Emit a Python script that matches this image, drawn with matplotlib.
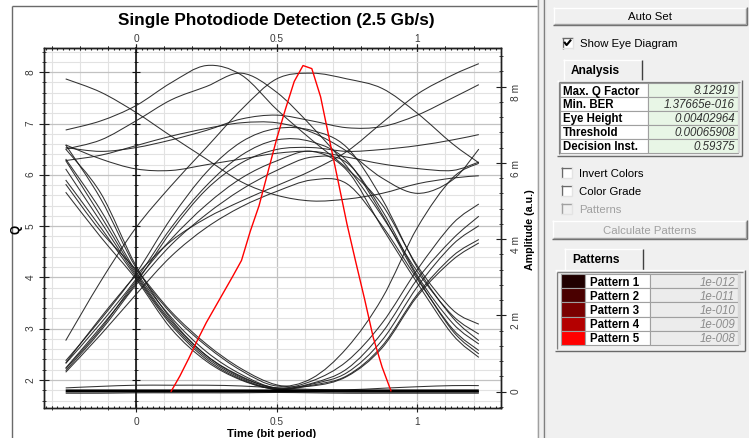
import numpy as np
import matplotlib
matplotlib.use("Agg")
import matplotlib.pyplot as plt
from matplotlib.patches import Rectangle, PathPatch
from matplotlib.path import Path
from matplotlib.ticker import MultipleLocator, FixedLocator, FuncFormatter, NullFormatter

plt.rcParams['font.family'] = ['Liberation Sans', 'DejaVu Sans']

# ---------------- data ----------------
time_bits = [-0.25, -0.125, 0.0, 0.125, 0.25, 0.375, 0.5, 0.625, 0.75, 0.875, 1.0, 1.125, 1.21875]

# eye-diagram traces, amplitude in mV (right axis)
trace_a = [8.20, 7.85, 7.32, 6.70, 6.10, 5.50, 5.15, 5.00, 5.05, 5.20, 5.45, 5.60, 5.66]
trace_b = [6.86, 7.10, 7.50, 8.10, 8.55, 8.30, 7.40, 6.60, 5.85, 4.90, 3.30, 2.15, 1.77]
trace_c = [6.36, 6.60, 7.10, 7.65, 8.00, 8.35, 7.85, 6.95, 5.90, 4.60, 3.15, 2.00, 1.51]
trace_d = [6.40, 6.30, 6.40, 6.60, 6.85, 7.15, 7.25, 7.10, 6.92, 6.95, 7.25, 7.70, 8.05]
trace_g = [6.47, 6.10, 5.84, 5.80, 5.95, 6.10, 6.25, 6.30, 6.15, 5.97, 5.85, 5.80, 6.02]
trace_i = [6.06, 6.20, 6.45, 6.70, 6.90, 7.05, 7.05, 6.80, 6.30, 5.60, 5.20, 5.55, 6.36]
trace_l1 = [1.34, 2.90, 4.30, 5.40, 6.40, 7.40, 8.20, 8.35, 8.20, 7.95, 7.30, 6.50, 6.00]
trace_e = [0.75, 1.95, 3.05, 3.95, 4.55, 5.00, 5.40, 5.80, 6.30, 7.05, 7.80, 8.30, 8.60]
trace_h = [0.62, 1.70, 2.85, 4.20, 5.30, 6.00, 6.35, 6.40, 6.30, 6.35, 6.45, 6.60, 6.74]
trace_r0b = [0.81, 1.90, 3.10, 4.55, 5.75, 6.55, 6.90, 6.85, 6.40, 5.05, 3.25, 1.95, 1.34]
trace_r0c = [0.55, 1.60, 2.80, 3.85, 4.65, 5.30, 5.80, 6.15, 6.00, 4.75, 3.05, 1.80, 1.25]
trace_r0d = [0.51, 1.50, 2.55, 3.55, 4.30, 4.85, 5.25, 5.55, 5.45, 4.35, 2.95, 1.65, 1.08]
trace_r0e = [0.74, 1.80, 2.95, 4.30, 5.40, 6.20, 6.60, 6.55, 6.05, 4.65, 3.00, 1.60, 0.99]
trace_r0f = [0.60, 1.65, 2.90, 4.00, 4.90, 5.60, 6.05, 6.30, 5.80, 4.30, 2.85, 1.50, 0.90]
trace_v1 = [6.47, 5.05, 3.25, 2.05, 1.20, 0.55, 0.15, 0.35, 1.15, 2.45, 4.30, 5.60, 5.99]
trace_v2 = [6.10, 4.75, 3.15, 1.95, 1.05, 0.45, 0.10, 0.28, 0.80, 1.80, 3.20, 4.40, 4.92]
trace_v3 = [6.06, 4.60, 3.10, 1.85, 0.95, 0.40, 0.08, 0.22, 0.60, 1.55, 2.95, 4.00, 4.60]
trace_v4 = [5.84, 4.45, 3.05, 1.80, 0.90, 0.35, 0.07, 0.20, 0.50, 1.35, 2.75, 3.85, 4.35]
trace_v5 = [5.55, 4.30, 3.00, 1.75, 0.85, 0.32, 0.06, 0.17, 0.42, 1.20, 2.55, 3.55, 3.99]
trace_v6 = [5.44, 4.20, 3.20, 2.10, 1.25, 0.60, 0.18, 0.15, 0.40, 1.15, 2.50, 3.45, 3.90]
trace_v7 = [5.23, 4.05, 2.95, 1.65, 0.80, 0.30, 0.05, 0.02, 0.00, 0.00, 0.00, 0.00, 0.00]
trace_v8 = [6.36, 5.20, 3.30, 1.90, 0.95, 0.38, 0.09, 0.03, 0.01, 0.00, 0.00, 0.00, 0.00]
trace_z1 = [0.02, 0.02, 0.02, 0.02, 0.02, 0.02, 0.02, 0.02, 0.02, 0.02, 0.02, 0.02, 0.02]
trace_z2 = [-0.04, -0.04, -0.03, -0.03, -0.03, -0.03, -0.02, -0.03, -0.04, -0.04, -0.04, -0.04, -0.04]
trace_z3 = [0.10, 0.14, 0.17, 0.17, 0.17, 0.15, 0.10, 0.06, 0.05, 0.09, 0.13, 0.16, 0.16]

eye_traces = [trace_a, trace_b, trace_c, trace_d, trace_g, trace_i, trace_l1, trace_e, trace_h,
              trace_r0b, trace_r0c, trace_r0d, trace_r0e, trace_r0f,
              trace_v1, trace_v2, trace_v3, trace_v4, trace_v5, trace_v6, trace_v7, trace_v8,
              trace_z2, trace_z3]
zero_trace = trace_z1

# Q factor vs decision instant (left axis)
q_time = [0.125, 0.15625, 0.1875, 0.21875, 0.25, 0.28125, 0.3125, 0.34375, 0.375, 0.40625,
          0.4375, 0.46875, 0.5, 0.53125, 0.5625, 0.59375, 0.625, 0.65625, 0.6875, 0.71875,
          0.75, 0.78125, 0.8125, 0.84375, 0.875, 0.90625]
q_factor = [1.78, 2.08, 2.42, 2.78, 3.12, 3.42, 3.72, 4.02, 4.33, 4.90,
            5.40, 6.05, 6.70, 7.28, 7.82, 8.13, 8.07, 7.52, 6.69, 5.87,
            5.04, 4.30, 3.58, 2.82, 2.25, 1.79]

analysis_labels = ["Max. Q Factor", "Min. BER", "Eye Height", "Threshold", "Decision Inst."]
analysis_values = ["8.12919", "1.37665e-016", "0.00402964", "0.00065908", "0.59375"]
pattern_labels = ["Pattern 1", "Pattern 2", "Pattern 3", "Pattern 4", "Pattern 5"]
pattern_ber = ["1e-012", "1e-011", "1e-010", "1e-009", "1e-008"]
pattern_colors = ["#200000", "#4a0000", "#7a0000", "#b40000", "#ff0000"]

x_tick_values = [0.0, 0.5, 1.0]
title = "Single Photodiode Detection (2.5 Gb/s)"

# ---------------- figure ----------------
W, H = 749, 439
fig = plt.figure(figsize=(W / 100, H / 100), dpi=100)
fig.patch.set_facecolor('white')

ui = fig.add_axes([0, 0, 1, 1])
ui.set_xlim(0, W)
ui.set_ylim(H, 0)
ui.axis('off')


def rect(x0, y0, x1, y1, fc, ec='none', lw=0.8, z=1):
    ui.add_patch(Rectangle((x0, y0), x1 - x0, y1 - y0, facecolor=fc, edgecolor=ec, lw=lw, zorder=z))


def line(xs, ys, c, lw=1.0, z=2):
    ui.plot(xs, ys, color=c, lw=lw, zorder=z, solid_capstyle='butt')


# chart outer frame
line([11.5, 11.5], [H, 6.5], '#6a6a6a', 1.0)
line([11.5, 537], [6.5, 6.5], '#6a6a6a', 1.0)

# right panel
rect(537, 0, W, H, '#f0f0f0')
line([537.5, 537.5], [0, H], '#a0a0a0', 1.0)
line([543.5, 543.5], [0, H], '#696969', 1.0)
line([544.5, 544.5], [0, H], '#dcdcdc', 1.0)


def button(x0, y0, x1, y1, label, enabled=True):
    rect(x0, y0, x1, y1, '#f0f0f0')
    line([x0, x1], [y0 + 0.5, y0 + 0.5], '#ffffff', 1.0)
    line([x0 + 0.5, x0 + 0.5], [y0, y1], '#ffffff', 1.0)
    line([x0, x1], [y1 - 0.5, y1 - 0.5], '#696969', 1.0)
    line([x1 - 0.5, x1 - 0.5], [y0, y1], '#696969', 1.0)
    line([x0 + 1, x1 - 1], [y1 - 1.5, y1 - 1.5], '#a0a0a0', 1.0)
    line([x1 - 1.5, x1 - 1.5], [y0 + 1, y1 - 1], '#a0a0a0', 1.0)
    ui.text((x0 + x1) / 2, (y0 + y1) / 2 + 0.5, label, ha='center', va='center', fontsize=8.2,
            color='#000000' if enabled else '#a0a0a0', zorder=3)


def checkbox(x, y, label, checked=False, enabled=True):
    fc = '#ffffff' if enabled else '#f0f0f0'
    rect(x, y, x + 11, y + 11, fc, z=2)
    dark = '#696969' if enabled else '#a0a0a0'
    line([x, x + 11], [y + 0.5, y + 0.5], dark, 1.0, z=3)
    line([x + 0.5, x + 0.5], [y, y + 11], dark, 1.0, z=3)
    line([x, x + 11], [y + 10.5, y + 10.5], '#e3e3e3', 1.0, z=3)
    line([x + 10.5, x + 10.5], [y, y + 11], '#e3e3e3', 1.0, z=3)
    if checked:
        ui.plot([x + 2.8, x + 4.6, x + 8.4], [y + 5.2, y + 7.6, y + 3.0], color='#000000', lw=1.5, zorder=4)
    ui.text(x + 18, y + 5.8, label, ha='left', va='center', fontsize=8.2,
            color='#000000' if enabled else '#a0a0a0', zorder=3)


def tab(x0, y0, x1, y1, label):
    rect(x0, y0, x1, y1, '#f0f0f0', z=2)
    line([x0 + 0.5, x0 + 0.5], [y0, y1], '#ffffff', 1.0, z=3)
    line([x0, x1], [y0 + 0.5, y0 + 0.5], '#ffffff', 1.0, z=3)
    line([x1 - 0.5, x1 - 0.5], [y0 + 1, y1], '#404040', 1.0, z=3)
    ui.text(x0 + 8, (y0 + y1) / 2 + 0.5, label, ha='left', va='center', fontsize=8.6,
            fontweight='bold', color='#000000', zorder=4)


def frame3d(x0, y0, x1, y1):
    line([x0, x1], [y0 + 0.5, y0 + 0.5], '#ffffff', 1.0, z=3)
    line([x0 + 0.5, x0 + 0.5], [y0, y1], '#ffffff', 1.0, z=3)
    line([x0, x1], [y1 - 0.5, y1 - 0.5], '#696969', 1.0, z=3)
    line([x1 - 0.5, x1 - 0.5], [y0, y1], '#696969', 1.0, z=3)
    line([x0 + 2, x1 - 2], [y0 + 2, y0 + 2], '#808080', 1.0, z=3)
    line([x0 + 2, x0 + 2], [y0 + 2, y1 - 2], '#808080', 1.0, z=3)


button(553, 8, 747, 26, "Auto Set")
checkbox(562, 38.5, "Show Eye Diagram", checked=True)
tab(563, 60, 642, 81, "Analysis")

# analysis table
frame3d(557, 81, 742, 157)
row_h = 14.0
top = 84.0
for k, (lab, val) in enumerate(zip(analysis_labels, analysis_values)):
    y0 = top + k * row_h
    rect(560, y0, 648, y0 + row_h, '#ffffff', '#a0a0a0', 0.8, z=2)
    rect(648, y0, 737.5, y0 + row_h, '#e8f6e6', '#a0a0a0', 0.8, z=2)
    ui.text(563, y0 + row_h / 2 + 0.5, lab, ha='left', va='center', fontsize=8.3,
            fontweight='bold', color='#000000', zorder=4)
    ui.text(735, y0 + row_h / 2 + 0.5, val, ha='right', va='center', fontsize=8.3,
            style='italic', color='#303030', zorder=4)
rect(737.5, top, 740, top + 5 * row_h, '#d8d8d8', z=2)

checkbox(561, 168, "Invert Colors")
checkbox(561, 186, "Color Grade")
checkbox(561, 204, "Patterns", enabled=False)
button(552, 221, 747, 240, "Calculate Patterns", enabled=False)
tab(564, 249, 643, 271, "Patterns")

# patterns table
frame3d(555, 270.5, 745, 352)
prow_h = 14.2
ptop = 275.0
for k, (lab, val, col) in enumerate(zip(pattern_labels, pattern_ber, pattern_colors)):
    y0 = ptop + k * prow_h
    rect(561, y0, 584.5, y0 + prow_h, col, '#a0a0a0', 0.8, z=2)
    rect(584.5, y0, 649.5, y0 + prow_h, '#ffffff', '#a0a0a0', 0.8, z=2)
    rect(649.5, y0, 737.5, y0 + prow_h, '#ececec', '#a0a0a0', 0.8, z=2)
    ui.text(590, y0 + prow_h / 2 + 0.5, lab, ha='left', va='center', fontsize=8.3,
            fontweight='bold', color='#000000', zorder=4)
    ui.text(735, y0 + prow_h / 2 + 0.5, val, ha='right', va='center', fontsize=8.3,
            style='italic', color='#8c8c8c', zorder=4)
rect(737.5, ptop, 740.5, ptop + 5 * prow_h, '#d8d8d8', z=2)

# ---------------- chart axes ----------------
L, R, T, B = 44.0, 500.7, 49.0, 409.3
XLIM = (-0.3271, 1.2965)
QLIM = (1.448, 8.472)
rect_ax = [L / W, 1 - B / H, (R - L) / W, (B - T) / H]
ax = fig.add_axes(rect_ax)
ax.set_xlim(*XLIM)
ax.set_ylim(*QLIM)
ax.set_facecolor('white')

xfmt = FuncFormatter(lambda v, p: '%g' % (0 if abs(v) < 1e-9 else round(v, 2)))
minor_x = FixedLocator([round(0.1 * k, 1) for k in range(-3, 13)])
ax.xaxis.set_major_locator(FixedLocator(x_tick_values))
ax.xaxis.set_minor_locator(minor_x)
ax.xaxis.set_major_formatter(xfmt)
ax.yaxis.set_major_locator(MultipleLocator(1))
ax.yaxis.set_minor_locator(MultipleLocator(0.2))
ax.yaxis.set_major_formatter(FuncFormatter(lambda v, p: '%d' % round(v)))

ax.grid(which='minor', color='#e2e2e2', lw=0.8)
ax.grid(which='major', color='#c2c2c2', lw=0.9)
ax.set_axisbelow(True)

ax.tick_params(axis='x', which='both', top=True, labeltop=False, bottom=True, labelbottom=True,
               direction='inout', colors='#202020', labelcolor='#3a3a3a', labelsize=7.3, pad=2.6)
ax.tick_params(axis='x', which='major', length=6)
ax.tick_params(axis='x', which='minor', length=3.5)
ax.tick_params(axis='y', which='both', left=True, right=False, direction='inout', colors='#202020',
               labelcolor='#3a3a3a', labelsize=7.3, labelrotation=90, pad=2.6)
ax.tick_params(axis='y', which='major', length=7)
ax.tick_params(axis='y', which='minor', length=3.5)
for s in ax.spines.values():
    s.set_color('#202020')
    s.set_linewidth(1.0)

# top tick labels
secx = ax.secondary_xaxis('top')
secx.xaxis.set_major_locator(FixedLocator(x_tick_values))
secx.xaxis.set_minor_locator(FixedLocator([round(0.1 * k, 1) for k in range(-3, 13)]))
secx.xaxis.set_major_formatter(xfmt)
secx.tick_params(axis='x', which='both', direction='inout', colors='#202020', labelcolor='#3a3a3a',
                 labelsize=7.3, pad=0.6)
secx.tick_params(axis='x', which='major', length=6)
secx.tick_params(axis='x', which='minor', length=3.5)
secx.spines['top'].set_color('#202020')

ax.set_xlabel('Time (bit period)', fontsize=8.2, fontweight='bold', color='#000000')
ax.xaxis.set_label_coords(0.5 + (272.0 - (L + R) / 2) / (R - L), -(433.8 - B) / (B - T))
ax.xaxis.label.set_va('center')
ax.set_ylabel('Q', fontsize=8.5, fontweight='bold', color='#000000')
ax.yaxis.set_label_coords(-(L - 16.5) / (R - L), 0.5)
ax.yaxis.label.set_va('center')
ax.set_title(title, fontsize=12.3, fontweight='bold', color='#000000',
             x=(276.0 - L) / (R - L), y=1 + (T - 20.7) / (B - T), va='center', pad=0)

# helper axis (independent): vertical axis line through t = 0 and fine ticks on the frame
axz = fig.add_axes(rect_ax)
axz.set_xlim(*XLIM)
axz.set_ylim(*QLIM)
axz.patch.set_visible(False)
for nm in ('top', 'bottom', 'right'):
    axz.spines[nm].set_visible(False)
axz.spines['left'].set_position(('data', 0))
axz.spines['left'].set_color('#111111')
axz.spines['left'].set_linewidth(1.2)
axz.yaxis.set_major_locator(MultipleLocator(1))
axz.yaxis.set_minor_locator(MultipleLocator(0.2))
axz.yaxis.set_major_formatter(NullFormatter())
axz.tick_params(axis='y', which='major', direction='inout', length=6, color='#111111', labelleft=False)
axz.tick_params(axis='y', which='minor', direction='inout', length=3, color='#111111', labelleft=False)
axz.xaxis.set_major_locator(MultipleLocator(0.02))
axz.xaxis.set_minor_locator(MultipleLocator(1.0))
axz.xaxis.set_major_formatter(NullFormatter())
axz.tick_params(axis='x', which='major', direction='in', length=1.6, width=0.8, color='#202020',
                top=True, bottom=True, labelbottom=False, labeltop=False)
axz.tick_params(axis='x', which='minor', length=0)

# amplitude axis with eye traces
ax2 = ax.twinx()
ax2.set_ylim(-0.435, 9.01)
ax2.yaxis.set_major_locator(MultipleLocator(2))
ax2.yaxis.set_minor_locator(MultipleLocator(0.4))
ax2.yaxis.set_major_formatter(FuncFormatter(lambda v, p: '0' if abs(v) < 1e-9 else '%g m' % v))
ax2.tick_params(axis='y', which='both', direction='inout', colors='#202020', labelcolor='#3a3a3a',
                labelsize=7.3, labelrotation=90, pad=3.8)
ax2.tick_params(axis='y', which='major', length=7)
ax2.tick_params(axis='y', which='minor', length=3.5)
ax2.set_ylabel('Amplitude (a.u.)', fontsize=7.7, fontweight='bold', color='#000000')
ax2.yaxis.set_label_coords(1 + (530 - R) / (R - L), 0.5)
ax2.yaxis.label.set_va('center')
for s in ax2.spines.values():
    s.set_color('#202020')
    s.set_linewidth(1.0)


def smooth_line(axis, xs, ys, **kw):
    """Draw a trace as a smooth Catmull-Rom style Bezier path through the read points."""
    x = np.asarray(xs, float)
    y = np.asarray(ys, float)
    n = len(x)
    verts = [(x[0], y[0])]
    codes = [Path.MOVETO]
    for i in range(n - 1):
        i0 = max(i - 1, 0)
        i3 = min(i + 2, n - 1)
        c1 = (x[i] + (x[i + 1] - x[i0]) / 6.0, y[i] + (y[i + 1] - y[i0]) / 6.0)
        c2 = (x[i + 1] - (x[i3] - x[i]) / 6.0, y[i + 1] - (y[i3] - y[i]) / 6.0)
        verts += [c1, c2, (x[i + 1], y[i + 1])]
        codes += [Path.CURVE4] * 3
    axis.add_patch(PathPatch(Path(verts, codes), facecolor='none', **kw))


for tr in eye_traces:
    smooth_line(ax2, time_bits, tr, edgecolor='#1c1c1c', lw=0.75, alpha=0.9)
smooth_line(ax2, time_bits, zero_trace, edgecolor='#000000', lw=2.2)

# Q-factor curve on the Q scale
ax3 = ax.twinx()
ax3.set_ylim(*QLIM)
ax3.set_axis_off()
ax3.plot(q_time, q_factor, color='#ff0000', lw=1.0)

fig.savefig('out.png', dpi=100)
